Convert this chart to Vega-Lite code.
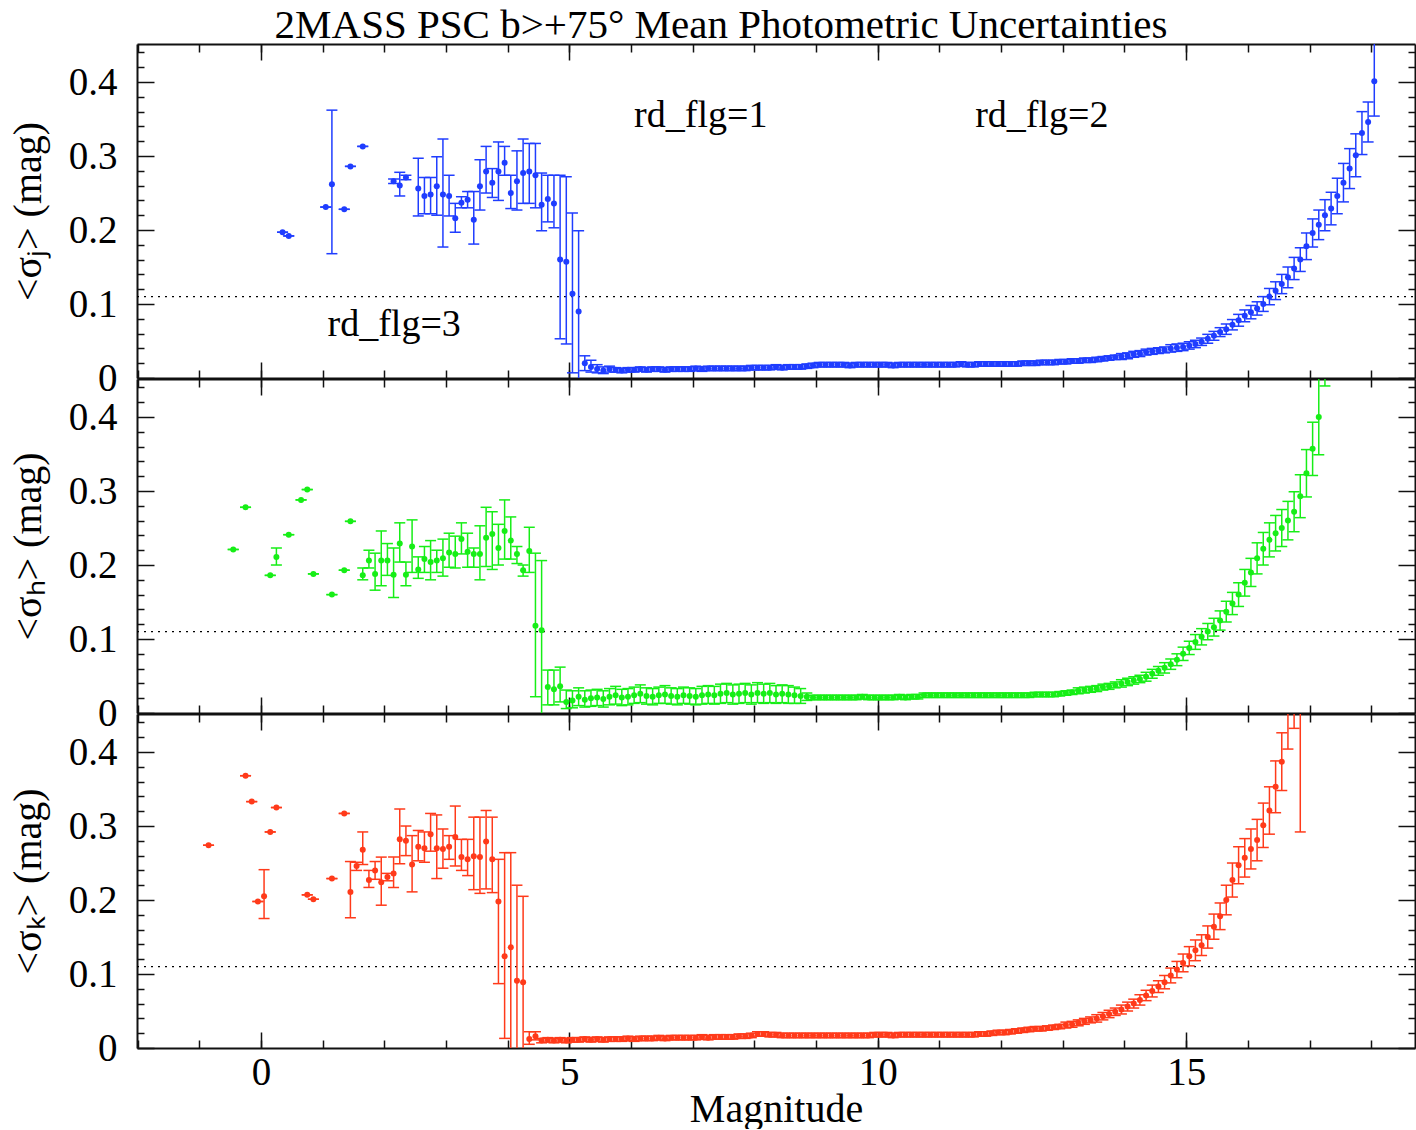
{
"$schema": "https://vega.github.io/schema/vega-lite/v6.json",
"padding": {"left": 8, "top": 5, "right": 0, "bottom": 0},
"background": "#ffffff",
"title": {"text": "2MASS PSC b>+75° Mean Photometric Uncertainties", "font": "Liberation Serif", "fontSize": 41, "fontWeight": "normal", "color": "#000", "offset": -4, "anchor": "middle", "dx": 9},
"config": {"view": {"stroke": null}, "axis": {"grid": false, "labelFont": "Liberation Serif", "labelFontSize": 39, "labelColor": "#000", "titleFont": "Liberation Serif", "titleFontSize": 40, "titleFontWeight": "normal", "titleColor": "#000", "domainColor": "#111", "domainWidth": 2, "tickColor": "#111", "tickWidth": 1.5}},
"datasets": {
"txt": [{"t": "rd_flg=1", "m": 7.13, "v": 0.354}, {"t": "rd_flg=2", "m": 12.66, "v": 0.354}, {"t": "rd_flg=3", "m": 2.16, "v": 0.072}],
"ref": [{"x1": -2.01, "x2": 18.71, "y": 0.11}],
"pts": [
{"b":"J","m":0.35,"v":0.197,"lo":0.197,"hi":0.197},
{"b":"J","m":0.45,"v":0.192,"lo":0.192,"hi":0.192},
{"b":"J","m":1.05,"v":0.231,"lo":0.231,"hi":0.231},
{"b":"J","m":1.15,"v":0.262,"lo":0.168,"hi":0.362},
{"b":"J","m":1.35,"v":0.228,"lo":0.228,"hi":0.228},
{"b":"J","m":1.45,"v":0.286,"lo":0.286,"hi":0.286},
{"b":"J","m":1.65,"v":0.313,"lo":0.313,"hi":0.313},
{"b":"J","m":2.15,"v":0.266,"lo":0.263,"hi":0.269},
{"b":"J","m":2.25,"v":0.260,"lo":0.246,"hi":0.278},
{"b":"J","m":2.35,"v":0.271,"lo":0.268,"hi":0.274},
{"b":"J","m":2.55,"v":0.256,"lo":0.219,"hi":0.297},
{"b":"J","m":2.65,"v":0.246,"lo":0.222,"hi":0.271},
{"b":"J","m":2.75,"v":0.248,"lo":0.222,"hi":0.271},
{"b":"J","m":2.85,"v":0.259,"lo":0.220,"hi":0.299},
{"b":"J","m":2.95,"v":0.248,"lo":0.177,"hi":0.323},
{"b":"J","m":3.05,"v":0.246,"lo":0.219,"hi":0.274},
{"b":"J","m":3.15,"v":0.216,"lo":0.197,"hi":0.236},
{"b":"J","m":3.25,"v":0.237,"lo":0.230,"hi":0.245},
{"b":"J","m":3.35,"v":0.241,"lo":0.230,"hi":0.252},
{"b":"J","m":3.45,"v":0.214,"lo":0.181,"hi":0.252},
{"b":"J","m":3.55,"v":0.259,"lo":0.227,"hi":0.295},
{"b":"J","m":3.65,"v":0.279,"lo":0.250,"hi":0.313},
{"b":"J","m":3.75,"v":0.264,"lo":0.244,"hi":0.283},
{"b":"J","m":3.85,"v":0.279,"lo":0.240,"hi":0.319},
{"b":"J","m":3.95,"v":0.291,"lo":0.274,"hi":0.313},
{"b":"J","m":4.05,"v":0.250,"lo":0.229,"hi":0.274},
{"b":"J","m":4.15,"v":0.266,"lo":0.227,"hi":0.307},
{"b":"J","m":4.25,"v":0.277,"lo":0.236,"hi":0.323},
{"b":"J","m":4.35,"v":0.279,"lo":0.236,"hi":0.317},
{"b":"J","m":4.45,"v":0.274,"lo":0.230,"hi":0.317},
{"b":"J","m":4.55,"v":0.234,"lo":0.199,"hi":0.277},
{"b":"J","m":4.65,"v":0.242,"lo":0.211,"hi":0.274},
{"b":"J","m":4.75,"v":0.236,"lo":0.203,"hi":0.274},
{"b":"J","m":4.85,"v":0.160,"lo":0.053,"hi":0.274},
{"b":"J","m":4.95,"v":0.157,"lo":0.046,"hi":0.272},
{"b":"J","m":5.05,"v":0.114,"lo":0.007,"hi":0.223},
{"b":"J","m":5.15,"v":0.090,"lo":-0.02,"hi":0.199},
{"b":"J","m":5.25,"v":0.020,"lo":0.010,"hi":0.030},
{"b":"J","m":5.35,"v":0.015,"lo":0.008,"hi":0.024},
{"b":"J","m":5.45,"v":0.012,"lo":0.007,"hi":0.018},
{"b":"J","m":5.55,"v":0.010,"lo":0.006,"hi":0.015},
{"b":"J","m":5.65,"v":0.012,"lo":0.008,"hi":0.016},
{"b":"J","m":5.75,"v":0.011,"lo":0.008,"hi":0.014},
{"b":"J","m":5.85,"v":0.010,"lo":0.007,"hi":0.013},
{"b":"J","m":5.95,"v":0.011,"lo":0.008,"hi":0.014},
{"b":"J","m":6.05,"v":0.011,"lo":0.008,"hi":0.014},
{"b":"J","m":6.15,"v":0.012,"lo":0.009,"hi":0.015},
{"b":"J","m":6.25,"v":0.011,"lo":0.008,"hi":0.014},
{"b":"J","m":6.35,"v":0.012,"lo":0.009,"hi":0.015},
{"b":"J","m":6.45,"v":0.012,"lo":0.009,"hi":0.015},
{"b":"J","m":6.55,"v":0.011,"lo":0.008,"hi":0.014},
{"b":"J","m":6.65,"v":0.012,"lo":0.009,"hi":0.015},
{"b":"J","m":6.75,"v":0.012,"lo":0.009,"hi":0.015},
{"b":"J","m":6.85,"v":0.012,"lo":0.009,"hi":0.015},
{"b":"J","m":6.95,"v":0.012,"lo":0.009,"hi":0.015},
{"b":"J","m":7.05,"v":0.013,"lo":0.010,"hi":0.016},
{"b":"J","m":7.15,"v":0.012,"lo":0.009,"hi":0.015},
{"b":"J","m":7.25,"v":0.013,"lo":0.010,"hi":0.016},
{"b":"J","m":7.35,"v":0.013,"lo":0.010,"hi":0.016},
{"b":"J","m":7.45,"v":0.013,"lo":0.010,"hi":0.016},
{"b":"J","m":7.55,"v":0.013,"lo":0.010,"hi":0.016},
{"b":"J","m":7.65,"v":0.013,"lo":0.010,"hi":0.016},
{"b":"J","m":7.75,"v":0.013,"lo":0.010,"hi":0.016},
{"b":"J","m":7.85,"v":0.013,"lo":0.010,"hi":0.016},
{"b":"J","m":7.95,"v":0.014,"lo":0.011,"hi":0.017},
{"b":"J","m":8.05,"v":0.014,"lo":0.011,"hi":0.017},
{"b":"J","m":8.15,"v":0.014,"lo":0.011,"hi":0.017},
{"b":"J","m":8.25,"v":0.014,"lo":0.011,"hi":0.017},
{"b":"J","m":8.35,"v":0.015,"lo":0.012,"hi":0.018},
{"b":"J","m":8.45,"v":0.014,"lo":0.011,"hi":0.017},
{"b":"J","m":8.55,"v":0.015,"lo":0.012,"hi":0.018},
{"b":"J","m":8.65,"v":0.015,"lo":0.012,"hi":0.018},
{"b":"J","m":8.75,"v":0.015,"lo":0.012,"hi":0.018},
{"b":"J","m":8.85,"v":0.016,"lo":0.013,"hi":0.019},
{"b":"J","m":8.95,"v":0.017,"lo":0.014,"hi":0.020},
{"b":"J","m":9.05,"v":0.018,"lo":0.015,"hi":0.021},
{"b":"J","m":9.15,"v":0.018,"lo":0.015,"hi":0.021},
{"b":"J","m":9.25,"v":0.018,"lo":0.015,"hi":0.021},
{"b":"J","m":9.35,"v":0.018,"lo":0.015,"hi":0.021},
{"b":"J","m":9.45,"v":0.018,"lo":0.015,"hi":0.021},
{"b":"J","m":9.55,"v":0.017,"lo":0.014,"hi":0.020},
{"b":"J","m":9.65,"v":0.018,"lo":0.015,"hi":0.021},
{"b":"J","m":9.75,"v":0.018,"lo":0.015,"hi":0.021},
{"b":"J","m":9.85,"v":0.018,"lo":0.015,"hi":0.021},
{"b":"J","m":9.95,"v":0.018,"lo":0.015,"hi":0.021},
{"b":"J","m":10.05,"v":0.018,"lo":0.015,"hi":0.021},
{"b":"J","m":10.15,"v":0.018,"lo":0.015,"hi":0.021},
{"b":"J","m":10.25,"v":0.017,"lo":0.014,"hi":0.020},
{"b":"J","m":10.35,"v":0.018,"lo":0.015,"hi":0.021},
{"b":"J","m":10.45,"v":0.018,"lo":0.015,"hi":0.021},
{"b":"J","m":10.55,"v":0.018,"lo":0.015,"hi":0.021},
{"b":"J","m":10.65,"v":0.018,"lo":0.015,"hi":0.021},
{"b":"J","m":10.75,"v":0.018,"lo":0.015,"hi":0.021},
{"b":"J","m":10.85,"v":0.018,"lo":0.015,"hi":0.021},
{"b":"J","m":10.95,"v":0.018,"lo":0.015,"hi":0.021},
{"b":"J","m":11.05,"v":0.018,"lo":0.015,"hi":0.021},
{"b":"J","m":11.15,"v":0.018,"lo":0.015,"hi":0.021},
{"b":"J","m":11.25,"v":0.018,"lo":0.015,"hi":0.021},
{"b":"J","m":11.35,"v":0.019,"lo":0.016,"hi":0.022},
{"b":"J","m":11.45,"v":0.018,"lo":0.015,"hi":0.021},
{"b":"J","m":11.55,"v":0.018,"lo":0.015,"hi":0.021},
{"b":"J","m":11.65,"v":0.019,"lo":0.016,"hi":0.022},
{"b":"J","m":11.75,"v":0.019,"lo":0.016,"hi":0.022},
{"b":"J","m":11.85,"v":0.019,"lo":0.016,"hi":0.022},
{"b":"J","m":11.95,"v":0.019,"lo":0.016,"hi":0.022},
{"b":"J","m":12.05,"v":0.019,"lo":0.016,"hi":0.022},
{"b":"J","m":12.15,"v":0.019,"lo":0.016,"hi":0.022},
{"b":"J","m":12.25,"v":0.019,"lo":0.016,"hi":0.022},
{"b":"J","m":12.35,"v":0.020,"lo":0.017,"hi":0.023},
{"b":"J","m":12.45,"v":0.020,"lo":0.017,"hi":0.023},
{"b":"J","m":12.55,"v":0.020,"lo":0.017,"hi":0.023},
{"b":"J","m":12.65,"v":0.021,"lo":0.018,"hi":0.024},
{"b":"J","m":12.75,"v":0.021,"lo":0.018,"hi":0.024},
{"b":"J","m":12.85,"v":0.021,"lo":0.018,"hi":0.024},
{"b":"J","m":12.95,"v":0.022,"lo":0.019,"hi":0.025},
{"b":"J","m":13.05,"v":0.022,"lo":0.019,"hi":0.025},
{"b":"J","m":13.15,"v":0.023,"lo":0.020,"hi":0.026},
{"b":"J","m":13.25,"v":0.023,"lo":0.020,"hi":0.026},
{"b":"J","m":13.35,"v":0.024,"lo":0.021,"hi":0.027},
{"b":"J","m":13.45,"v":0.024,"lo":0.021,"hi":0.027},
{"b":"J","m":13.55,"v":0.025,"lo":0.022,"hi":0.028},
{"b":"J","m":13.65,"v":0.026,"lo":0.023,"hi":0.029},
{"b":"J","m":13.75,"v":0.027,"lo":0.024,"hi":0.030},
{"b":"J","m":13.85,"v":0.028,"lo":0.025,"hi":0.031},
{"b":"J","m":13.95,"v":0.029,"lo":0.025,"hi":0.033},
{"b":"J","m":14.05,"v":0.030,"lo":0.026,"hi":0.034},
{"b":"J","m":14.15,"v":0.032,"lo":0.028,"hi":0.036},
{"b":"J","m":14.25,"v":0.033,"lo":0.029,"hi":0.037},
{"b":"J","m":14.35,"v":0.035,"lo":0.031,"hi":0.039},
{"b":"J","m":14.45,"v":0.036,"lo":0.032,"hi":0.040},
{"b":"J","m":14.55,"v":0.037,"lo":0.033,"hi":0.041},
{"b":"J","m":14.65,"v":0.038,"lo":0.034,"hi":0.042},
{"b":"J","m":14.75,"v":0.040,"lo":0.035,"hi":0.045},
{"b":"J","m":14.85,"v":0.041,"lo":0.036,"hi":0.046},
{"b":"J","m":14.95,"v":0.042,"lo":0.037,"hi":0.047},
{"b":"J","m":15.05,"v":0.044,"lo":0.039,"hi":0.049},
{"b":"J","m":15.15,"v":0.046,"lo":0.041,"hi":0.051},
{"b":"J","m":15.25,"v":0.049,"lo":0.044,"hi":0.054},
{"b":"J","m":15.35,"v":0.053,"lo":0.047,"hi":0.059},
{"b":"J","m":15.45,"v":0.057,"lo":0.051,"hi":0.063},
{"b":"J","m":15.55,"v":0.062,"lo":0.056,"hi":0.068},
{"b":"J","m":15.65,"v":0.066,"lo":0.059,"hi":0.073},
{"b":"J","m":15.75,"v":0.072,"lo":0.065,"hi":0.079},
{"b":"J","m":15.85,"v":0.078,"lo":0.070,"hi":0.086},
{"b":"J","m":15.95,"v":0.084,"lo":0.076,"hi":0.092},
{"b":"J","m":16.05,"v":0.089,"lo":0.080,"hi":0.098},
{"b":"J","m":16.15,"v":0.094,"lo":0.085,"hi":0.103},
{"b":"J","m":16.25,"v":0.100,"lo":0.090,"hi":0.110},
{"b":"J","m":16.35,"v":0.110,"lo":0.099,"hi":0.121},
{"b":"J","m":16.45,"v":0.118,"lo":0.106,"hi":0.130},
{"b":"J","m":16.55,"v":0.127,"lo":0.114,"hi":0.140},
{"b":"J","m":16.65,"v":0.136,"lo":0.122,"hi":0.150},
{"b":"J","m":16.75,"v":0.148,"lo":0.133,"hi":0.163},
{"b":"J","m":16.85,"v":0.160,"lo":0.144,"hi":0.176},
{"b":"J","m":16.95,"v":0.178,"lo":0.160,"hi":0.196},
{"b":"J","m":17.05,"v":0.196,"lo":0.177,"hi":0.215},
{"b":"J","m":17.15,"v":0.207,"lo":0.187,"hi":0.227},
{"b":"J","m":17.25,"v":0.220,"lo":0.199,"hi":0.241},
{"b":"J","m":17.35,"v":0.229,"lo":0.207,"hi":0.251},
{"b":"J","m":17.45,"v":0.246,"lo":0.222,"hi":0.270},
{"b":"J","m":17.55,"v":0.264,"lo":0.238,"hi":0.290},
{"b":"J","m":17.65,"v":0.283,"lo":0.256,"hi":0.310},
{"b":"J","m":17.75,"v":0.301,"lo":0.272,"hi":0.330},
{"b":"J","m":17.85,"v":0.331,"lo":0.302,"hi":0.360},
{"b":"J","m":17.95,"v":0.346,"lo":0.319,"hi":0.373},
{"b":"J","m":18.05,"v":0.401,"lo":0.354,"hi":0.520},
{"b":"H","m":-0.45,"v":0.221,"lo":0.221,"hi":0.221},
{"b":"H","m":-0.25,"v":0.278,"lo":0.278,"hi":0.278},
{"b":"H","m":0.15,"v":0.186,"lo":0.186,"hi":0.186},
{"b":"H","m":0.25,"v":0.211,"lo":0.200,"hi":0.223},
{"b":"H","m":0.45,"v":0.241,"lo":0.241,"hi":0.241},
{"b":"H","m":0.65,"v":0.288,"lo":0.288,"hi":0.288},
{"b":"H","m":0.75,"v":0.302,"lo":0.302,"hi":0.302},
{"b":"H","m":0.85,"v":0.188,"lo":0.188,"hi":0.188},
{"b":"H","m":1.15,"v":0.160,"lo":0.160,"hi":0.160},
{"b":"H","m":1.35,"v":0.193,"lo":0.193,"hi":0.193},
{"b":"H","m":1.45,"v":0.259,"lo":0.259,"hi":0.259},
{"b":"H","m":1.65,"v":0.186,"lo":0.180,"hi":0.196},
{"b":"H","m":1.75,"v":0.206,"lo":0.196,"hi":0.220},
{"b":"H","m":1.85,"v":0.188,"lo":0.166,"hi":0.216},
{"b":"H","m":1.95,"v":0.206,"lo":0.172,"hi":0.246},
{"b":"H","m":2.05,"v":0.206,"lo":0.186,"hi":0.229},
{"b":"H","m":2.15,"v":0.187,"lo":0.156,"hi":0.223},
{"b":"H","m":2.25,"v":0.229,"lo":0.204,"hi":0.257},
{"b":"H","m":2.35,"v":0.187,"lo":0.172,"hi":0.204},
{"b":"H","m":2.45,"v":0.225,"lo":0.190,"hi":0.261},
{"b":"H","m":2.55,"v":0.194,"lo":0.182,"hi":0.211},
{"b":"H","m":2.65,"v":0.208,"lo":0.190,"hi":0.225},
{"b":"H","m":2.75,"v":0.204,"lo":0.180,"hi":0.233},
{"b":"H","m":2.85,"v":0.206,"lo":0.190,"hi":0.220},
{"b":"H","m":2.95,"v":0.209,"lo":0.185,"hi":0.235},
{"b":"H","m":3.05,"v":0.217,"lo":0.197,"hi":0.243},
{"b":"H","m":3.15,"v":0.215,"lo":0.196,"hi":0.239},
{"b":"H","m":3.25,"v":0.235,"lo":0.215,"hi":0.257},
{"b":"H","m":3.35,"v":0.218,"lo":0.197,"hi":0.243},
{"b":"H","m":3.45,"v":0.215,"lo":0.197,"hi":0.223},
{"b":"H","m":3.55,"v":0.215,"lo":0.180,"hi":0.253},
{"b":"H","m":3.65,"v":0.237,"lo":0.198,"hi":0.278},
{"b":"H","m":3.75,"v":0.242,"lo":0.194,"hi":0.272},
{"b":"H","m":3.85,"v":0.223,"lo":0.200,"hi":0.255},
{"b":"H","m":3.95,"v":0.246,"lo":0.208,"hi":0.288},
{"b":"H","m":4.05,"v":0.233,"lo":0.208,"hi":0.265},
{"b":"H","m":4.15,"v":0.215,"lo":0.202,"hi":0.225},
{"b":"H","m":4.25,"v":0.193,"lo":0.185,"hi":0.200},
{"b":"H","m":4.35,"v":0.219,"lo":0.190,"hi":0.251},
{"b":"H","m":4.45,"v":0.118,"lo":0.022,"hi":0.216},
{"b":"H","m":4.55,"v":0.112,"lo":-0.02,"hi":0.206},
{"b":"H","m":4.65,"v":0.035,"lo":0.011,"hi":0.058},
{"b":"H","m":4.75,"v":0.032,"lo":0.011,"hi":0.058},
{"b":"H","m":4.85,"v":0.036,"lo":0.015,"hi":0.062},
{"b":"H","m":4.95,"v":0.015,"lo":0.006,"hi":0.031},
{"b":"H","m":5.05,"v":0.017,"lo":0.007,"hi":0.030},
{"b":"H","m":5.15,"v":0.022,"lo":0.010,"hi":0.034},
{"b":"H","m":5.25,"v":0.018,"lo":0.008,"hi":0.030},
{"b":"H","m":5.35,"v":0.020,"lo":0.009,"hi":0.031},
{"b":"H","m":5.45,"v":0.021,"lo":0.010,"hi":0.032},
{"b":"H","m":5.55,"v":0.019,"lo":0.008,"hi":0.030},
{"b":"H","m":5.65,"v":0.022,"lo":0.011,"hi":0.033},
{"b":"H","m":5.75,"v":0.024,"lo":0.012,"hi":0.036},
{"b":"H","m":5.85,"v":0.021,"lo":0.010,"hi":0.032},
{"b":"H","m":5.95,"v":0.022,"lo":0.011,"hi":0.033},
{"b":"H","m":6.05,"v":0.024,"lo":0.013,"hi":0.035},
{"b":"H","m":6.15,"v":0.026,"lo":0.014,"hi":0.038},
{"b":"H","m":6.25,"v":0.023,"lo":0.012,"hi":0.034},
{"b":"H","m":6.35,"v":0.022,"lo":0.011,"hi":0.033},
{"b":"H","m":6.45,"v":0.024,"lo":0.013,"hi":0.035},
{"b":"H","m":6.55,"v":0.025,"lo":0.013,"hi":0.037},
{"b":"H","m":6.65,"v":0.023,"lo":0.012,"hi":0.034},
{"b":"H","m":6.75,"v":0.022,"lo":0.011,"hi":0.033},
{"b":"H","m":6.85,"v":0.024,"lo":0.013,"hi":0.035},
{"b":"H","m":6.95,"v":0.023,"lo":0.012,"hi":0.034},
{"b":"H","m":7.05,"v":0.022,"lo":0.011,"hi":0.033},
{"b":"H","m":7.15,"v":0.024,"lo":0.012,"hi":0.036},
{"b":"H","m":7.25,"v":0.025,"lo":0.013,"hi":0.037},
{"b":"H","m":7.35,"v":0.024,"lo":0.012,"hi":0.036},
{"b":"H","m":7.45,"v":0.026,"lo":0.013,"hi":0.039},
{"b":"H","m":7.55,"v":0.027,"lo":0.014,"hi":0.040},
{"b":"H","m":7.65,"v":0.025,"lo":0.012,"hi":0.038},
{"b":"H","m":7.75,"v":0.026,"lo":0.013,"hi":0.039},
{"b":"H","m":7.85,"v":0.027,"lo":0.014,"hi":0.040},
{"b":"H","m":7.95,"v":0.025,"lo":0.012,"hi":0.038},
{"b":"H","m":8.05,"v":0.027,"lo":0.014,"hi":0.041},
{"b":"H","m":8.15,"v":0.026,"lo":0.013,"hi":0.039},
{"b":"H","m":8.25,"v":0.027,"lo":0.014,"hi":0.040},
{"b":"H","m":8.35,"v":0.025,"lo":0.013,"hi":0.037},
{"b":"H","m":8.45,"v":0.026,"lo":0.014,"hi":0.038},
{"b":"H","m":8.55,"v":0.025,"lo":0.013,"hi":0.037},
{"b":"H","m":8.65,"v":0.024,"lo":0.013,"hi":0.035},
{"b":"H","m":8.75,"v":0.023,"lo":0.013,"hi":0.033},
{"b":"H","m":8.85,"v":0.022,"lo":0.017,"hi":0.027},
{"b":"H","m":8.95,"v":0.021,"lo":0.018,"hi":0.024},
{"b":"H","m":9.05,"v":0.021,"lo":0.018,"hi":0.024},
{"b":"H","m":9.15,"v":0.021,"lo":0.018,"hi":0.024},
{"b":"H","m":9.25,"v":0.021,"lo":0.018,"hi":0.024},
{"b":"H","m":9.35,"v":0.021,"lo":0.018,"hi":0.024},
{"b":"H","m":9.45,"v":0.021,"lo":0.018,"hi":0.024},
{"b":"H","m":9.55,"v":0.021,"lo":0.018,"hi":0.024},
{"b":"H","m":9.65,"v":0.021,"lo":0.018,"hi":0.024},
{"b":"H","m":9.75,"v":0.022,"lo":0.019,"hi":0.025},
{"b":"H","m":9.85,"v":0.021,"lo":0.018,"hi":0.024},
{"b":"H","m":9.95,"v":0.021,"lo":0.018,"hi":0.024},
{"b":"H","m":10.05,"v":0.021,"lo":0.018,"hi":0.024},
{"b":"H","m":10.15,"v":0.021,"lo":0.018,"hi":0.024},
{"b":"H","m":10.25,"v":0.021,"lo":0.018,"hi":0.024},
{"b":"H","m":10.35,"v":0.022,"lo":0.019,"hi":0.025},
{"b":"H","m":10.45,"v":0.021,"lo":0.018,"hi":0.024},
{"b":"H","m":10.55,"v":0.022,"lo":0.019,"hi":0.025},
{"b":"H","m":10.65,"v":0.022,"lo":0.019,"hi":0.025},
{"b":"H","m":10.75,"v":0.024,"lo":0.021,"hi":0.027},
{"b":"H","m":10.85,"v":0.024,"lo":0.021,"hi":0.027},
{"b":"H","m":10.95,"v":0.024,"lo":0.021,"hi":0.027},
{"b":"H","m":11.05,"v":0.024,"lo":0.021,"hi":0.027},
{"b":"H","m":11.15,"v":0.024,"lo":0.021,"hi":0.027},
{"b":"H","m":11.25,"v":0.024,"lo":0.021,"hi":0.027},
{"b":"H","m":11.35,"v":0.024,"lo":0.021,"hi":0.027},
{"b":"H","m":11.45,"v":0.024,"lo":0.021,"hi":0.027},
{"b":"H","m":11.55,"v":0.024,"lo":0.021,"hi":0.027},
{"b":"H","m":11.65,"v":0.024,"lo":0.021,"hi":0.027},
{"b":"H","m":11.75,"v":0.024,"lo":0.021,"hi":0.027},
{"b":"H","m":11.85,"v":0.024,"lo":0.021,"hi":0.027},
{"b":"H","m":11.95,"v":0.024,"lo":0.021,"hi":0.027},
{"b":"H","m":12.05,"v":0.024,"lo":0.021,"hi":0.027},
{"b":"H","m":12.15,"v":0.024,"lo":0.021,"hi":0.027},
{"b":"H","m":12.25,"v":0.024,"lo":0.021,"hi":0.027},
{"b":"H","m":12.35,"v":0.024,"lo":0.021,"hi":0.027},
{"b":"H","m":12.45,"v":0.024,"lo":0.021,"hi":0.027},
{"b":"H","m":12.55,"v":0.025,"lo":0.022,"hi":0.028},
{"b":"H","m":12.65,"v":0.025,"lo":0.022,"hi":0.028},
{"b":"H","m":12.75,"v":0.025,"lo":0.022,"hi":0.028},
{"b":"H","m":12.85,"v":0.025,"lo":0.022,"hi":0.028},
{"b":"H","m":12.95,"v":0.026,"lo":0.023,"hi":0.029},
{"b":"H","m":13.05,"v":0.027,"lo":0.024,"hi":0.030},
{"b":"H","m":13.15,"v":0.028,"lo":0.025,"hi":0.031},
{"b":"H","m":13.25,"v":0.030,"lo":0.026,"hi":0.034},
{"b":"H","m":13.35,"v":0.031,"lo":0.027,"hi":0.035},
{"b":"H","m":13.45,"v":0.032,"lo":0.028,"hi":0.036},
{"b":"H","m":13.55,"v":0.033,"lo":0.029,"hi":0.037},
{"b":"H","m":13.65,"v":0.035,"lo":0.031,"hi":0.039},
{"b":"H","m":13.75,"v":0.036,"lo":0.032,"hi":0.040},
{"b":"H","m":13.85,"v":0.038,"lo":0.034,"hi":0.042},
{"b":"H","m":13.95,"v":0.040,"lo":0.035,"hi":0.045},
{"b":"H","m":14.05,"v":0.042,"lo":0.037,"hi":0.047},
{"b":"H","m":14.15,"v":0.044,"lo":0.039,"hi":0.049},
{"b":"H","m":14.25,"v":0.046,"lo":0.041,"hi":0.051},
{"b":"H","m":14.35,"v":0.049,"lo":0.043,"hi":0.055},
{"b":"H","m":14.45,"v":0.053,"lo":0.047,"hi":0.059},
{"b":"H","m":14.55,"v":0.057,"lo":0.051,"hi":0.063},
{"b":"H","m":14.65,"v":0.061,"lo":0.054,"hi":0.068},
{"b":"H","m":14.75,"v":0.066,"lo":0.059,"hi":0.073},
{"b":"H","m":14.85,"v":0.072,"lo":0.064,"hi":0.080},
{"b":"H","m":14.95,"v":0.080,"lo":0.071,"hi":0.089},
{"b":"H","m":15.05,"v":0.088,"lo":0.079,"hi":0.097},
{"b":"H","m":15.15,"v":0.096,"lo":0.086,"hi":0.106},
{"b":"H","m":15.25,"v":0.103,"lo":0.092,"hi":0.114},
{"b":"H","m":15.35,"v":0.110,"lo":0.099,"hi":0.121},
{"b":"H","m":15.45,"v":0.116,"lo":0.104,"hi":0.128},
{"b":"H","m":15.55,"v":0.125,"lo":0.112,"hi":0.138},
{"b":"H","m":15.65,"v":0.137,"lo":0.123,"hi":0.151},
{"b":"H","m":15.75,"v":0.148,"lo":0.133,"hi":0.163},
{"b":"H","m":15.85,"v":0.160,"lo":0.144,"hi":0.176},
{"b":"H","m":15.95,"v":0.176,"lo":0.158,"hi":0.194},
{"b":"H","m":16.05,"v":0.190,"lo":0.171,"hi":0.209},
{"b":"H","m":16.15,"v":0.209,"lo":0.188,"hi":0.230},
{"b":"H","m":16.25,"v":0.222,"lo":0.200,"hi":0.244},
{"b":"H","m":16.35,"v":0.234,"lo":0.211,"hi":0.257},
{"b":"H","m":16.45,"v":0.243,"lo":0.219,"hi":0.267},
{"b":"H","m":16.55,"v":0.250,"lo":0.225,"hi":0.275},
{"b":"H","m":16.65,"v":0.260,"lo":0.234,"hi":0.286},
{"b":"H","m":16.75,"v":0.272,"lo":0.245,"hi":0.299},
{"b":"H","m":16.85,"v":0.293,"lo":0.264,"hi":0.322},
{"b":"H","m":16.95,"v":0.324,"lo":0.292,"hi":0.356},
{"b":"H","m":17.05,"v":0.357,"lo":0.321,"hi":0.393},
{"b":"H","m":17.15,"v":0.400,"lo":0.349,"hi":0.460},
{"b":"H","m":17.25,"v":0.490,"lo":0.442,"hi":0.550},
{"b":"K","m":-0.85,"v":0.274,"lo":0.274,"hi":0.274},
{"b":"K","m":-0.25,"v":0.368,"lo":0.368,"hi":0.368},
{"b":"K","m":-0.15,"v":0.333,"lo":0.333,"hi":0.333},
{"b":"K","m":-0.05,"v":0.198,"lo":0.198,"hi":0.198},
{"b":"K","m":0.05,"v":0.205,"lo":0.175,"hi":0.241},
{"b":"K","m":0.15,"v":0.292,"lo":0.292,"hi":0.292},
{"b":"K","m":0.25,"v":0.325,"lo":0.325,"hi":0.325},
{"b":"K","m":0.75,"v":0.207,"lo":0.207,"hi":0.207},
{"b":"K","m":0.85,"v":0.201,"lo":0.201,"hi":0.201},
{"b":"K","m":1.15,"v":0.229,"lo":0.229,"hi":0.229},
{"b":"K","m":1.35,"v":0.317,"lo":0.317,"hi":0.317},
{"b":"K","m":1.45,"v":0.211,"lo":0.176,"hi":0.252},
{"b":"K","m":1.55,"v":0.246,"lo":0.240,"hi":0.251},
{"b":"K","m":1.65,"v":0.268,"lo":0.248,"hi":0.292},
{"b":"K","m":1.75,"v":0.227,"lo":0.217,"hi":0.240},
{"b":"K","m":1.85,"v":0.240,"lo":0.228,"hi":0.252},
{"b":"K","m":1.95,"v":0.224,"lo":0.193,"hi":0.258},
{"b":"K","m":2.05,"v":0.231,"lo":0.226,"hi":0.236},
{"b":"K","m":2.15,"v":0.236,"lo":0.217,"hi":0.258},
{"b":"K","m":2.25,"v":0.282,"lo":0.249,"hi":0.323},
{"b":"K","m":2.35,"v":0.280,"lo":0.260,"hi":0.300},
{"b":"K","m":2.45,"v":0.248,"lo":0.211,"hi":0.287},
{"b":"K","m":2.55,"v":0.272,"lo":0.253,"hi":0.294},
{"b":"K","m":2.65,"v":0.270,"lo":0.251,"hi":0.292},
{"b":"K","m":2.75,"v":0.289,"lo":0.266,"hi":0.317},
{"b":"K","m":2.85,"v":0.270,"lo":0.229,"hi":0.315},
{"b":"K","m":2.95,"v":0.269,"lo":0.243,"hi":0.296},
{"b":"K","m":3.05,"v":0.272,"lo":0.255,"hi":0.287},
{"b":"K","m":3.15,"v":0.285,"lo":0.246,"hi":0.327},
{"b":"K","m":3.25,"v":0.258,"lo":0.240,"hi":0.282},
{"b":"K","m":3.35,"v":0.255,"lo":0.233,"hi":0.282},
{"b":"K","m":3.45,"v":0.259,"lo":0.214,"hi":0.312},
{"b":"K","m":3.55,"v":0.258,"lo":0.209,"hi":0.312},
{"b":"K","m":3.65,"v":0.279,"lo":0.215,"hi":0.321},
{"b":"K","m":3.75,"v":0.255,"lo":0.210,"hi":0.312},
{"b":"K","m":3.85,"v":0.198,"lo":0.087,"hi":0.255},
{"b":"K","m":3.95,"v":0.124,"lo":0.013,"hi":0.264},
{"b":"K","m":4.05,"v":0.136,"lo":-0.02,"hi":0.264},
{"b":"K","m":4.15,"v":0.091,"lo":-0.02,"hi":0.220},
{"b":"K","m":4.25,"v":0.089,"lo":-0.02,"hi":0.205},
{"b":"K","m":4.35,"v":0.012,"lo":0.005,"hi":0.022},
{"b":"K","m":4.45,"v":0.016,"lo":0.011,"hi":0.022},
{"b":"K","m":4.55,"v":0.010,"lo":0.007,"hi":0.013},
{"b":"K","m":4.65,"v":0.011,"lo":0.008,"hi":0.014},
{"b":"K","m":4.75,"v":0.010,"lo":0.007,"hi":0.013},
{"b":"K","m":4.85,"v":0.011,"lo":0.008,"hi":0.014},
{"b":"K","m":4.95,"v":0.010,"lo":0.007,"hi":0.013},
{"b":"K","m":5.05,"v":0.011,"lo":0.008,"hi":0.014},
{"b":"K","m":5.15,"v":0.011,"lo":0.008,"hi":0.014},
{"b":"K","m":5.25,"v":0.012,"lo":0.009,"hi":0.015},
{"b":"K","m":5.35,"v":0.011,"lo":0.008,"hi":0.014},
{"b":"K","m":5.45,"v":0.012,"lo":0.009,"hi":0.015},
{"b":"K","m":5.55,"v":0.011,"lo":0.008,"hi":0.014},
{"b":"K","m":5.65,"v":0.012,"lo":0.009,"hi":0.015},
{"b":"K","m":5.75,"v":0.012,"lo":0.009,"hi":0.015},
{"b":"K","m":5.85,"v":0.012,"lo":0.009,"hi":0.015},
{"b":"K","m":5.95,"v":0.013,"lo":0.010,"hi":0.016},
{"b":"K","m":6.05,"v":0.012,"lo":0.009,"hi":0.015},
{"b":"K","m":6.15,"v":0.013,"lo":0.010,"hi":0.016},
{"b":"K","m":6.25,"v":0.013,"lo":0.010,"hi":0.016},
{"b":"K","m":6.35,"v":0.013,"lo":0.010,"hi":0.016},
{"b":"K","m":6.45,"v":0.014,"lo":0.011,"hi":0.017},
{"b":"K","m":6.55,"v":0.013,"lo":0.010,"hi":0.016},
{"b":"K","m":6.65,"v":0.014,"lo":0.011,"hi":0.017},
{"b":"K","m":6.75,"v":0.014,"lo":0.011,"hi":0.017},
{"b":"K","m":6.85,"v":0.014,"lo":0.011,"hi":0.017},
{"b":"K","m":6.95,"v":0.014,"lo":0.011,"hi":0.017},
{"b":"K","m":7.05,"v":0.014,"lo":0.011,"hi":0.017},
{"b":"K","m":7.15,"v":0.015,"lo":0.012,"hi":0.018},
{"b":"K","m":7.25,"v":0.014,"lo":0.011,"hi":0.017},
{"b":"K","m":7.35,"v":0.015,"lo":0.012,"hi":0.018},
{"b":"K","m":7.45,"v":0.015,"lo":0.012,"hi":0.018},
{"b":"K","m":7.55,"v":0.015,"lo":0.012,"hi":0.018},
{"b":"K","m":7.65,"v":0.015,"lo":0.012,"hi":0.018},
{"b":"K","m":7.75,"v":0.016,"lo":0.013,"hi":0.019},
{"b":"K","m":7.85,"v":0.016,"lo":0.013,"hi":0.019},
{"b":"K","m":7.95,"v":0.017,"lo":0.014,"hi":0.020},
{"b":"K","m":8.05,"v":0.019,"lo":0.016,"hi":0.022},
{"b":"K","m":8.15,"v":0.019,"lo":0.016,"hi":0.022},
{"b":"K","m":8.25,"v":0.018,"lo":0.015,"hi":0.021},
{"b":"K","m":8.35,"v":0.018,"lo":0.015,"hi":0.021},
{"b":"K","m":8.45,"v":0.017,"lo":0.014,"hi":0.020},
{"b":"K","m":8.55,"v":0.017,"lo":0.014,"hi":0.020},
{"b":"K","m":8.65,"v":0.017,"lo":0.014,"hi":0.020},
{"b":"K","m":8.75,"v":0.017,"lo":0.014,"hi":0.020},
{"b":"K","m":8.85,"v":0.017,"lo":0.014,"hi":0.020},
{"b":"K","m":8.95,"v":0.017,"lo":0.014,"hi":0.020},
{"b":"K","m":9.05,"v":0.017,"lo":0.014,"hi":0.020},
{"b":"K","m":9.15,"v":0.017,"lo":0.014,"hi":0.020},
{"b":"K","m":9.25,"v":0.017,"lo":0.014,"hi":0.020},
{"b":"K","m":9.35,"v":0.017,"lo":0.014,"hi":0.020},
{"b":"K","m":9.45,"v":0.017,"lo":0.014,"hi":0.020},
{"b":"K","m":9.55,"v":0.017,"lo":0.014,"hi":0.020},
{"b":"K","m":9.65,"v":0.017,"lo":0.014,"hi":0.020},
{"b":"K","m":9.75,"v":0.017,"lo":0.014,"hi":0.020},
{"b":"K","m":9.85,"v":0.017,"lo":0.014,"hi":0.020},
{"b":"K","m":9.95,"v":0.018,"lo":0.015,"hi":0.021},
{"b":"K","m":10.05,"v":0.018,"lo":0.015,"hi":0.021},
{"b":"K","m":10.15,"v":0.018,"lo":0.015,"hi":0.021},
{"b":"K","m":10.25,"v":0.017,"lo":0.014,"hi":0.020},
{"b":"K","m":10.35,"v":0.018,"lo":0.015,"hi":0.021},
{"b":"K","m":10.45,"v":0.018,"lo":0.015,"hi":0.021},
{"b":"K","m":10.55,"v":0.018,"lo":0.015,"hi":0.021},
{"b":"K","m":10.65,"v":0.018,"lo":0.015,"hi":0.021},
{"b":"K","m":10.75,"v":0.018,"lo":0.015,"hi":0.021},
{"b":"K","m":10.85,"v":0.018,"lo":0.015,"hi":0.021},
{"b":"K","m":10.95,"v":0.018,"lo":0.015,"hi":0.021},
{"b":"K","m":11.05,"v":0.018,"lo":0.015,"hi":0.021},
{"b":"K","m":11.15,"v":0.018,"lo":0.015,"hi":0.021},
{"b":"K","m":11.25,"v":0.018,"lo":0.015,"hi":0.021},
{"b":"K","m":11.35,"v":0.018,"lo":0.015,"hi":0.021},
{"b":"K","m":11.45,"v":0.018,"lo":0.015,"hi":0.021},
{"b":"K","m":11.55,"v":0.018,"lo":0.015,"hi":0.021},
{"b":"K","m":11.65,"v":0.019,"lo":0.016,"hi":0.022},
{"b":"K","m":11.75,"v":0.019,"lo":0.016,"hi":0.022},
{"b":"K","m":11.85,"v":0.020,"lo":0.017,"hi":0.023},
{"b":"K","m":11.95,"v":0.021,"lo":0.018,"hi":0.024},
{"b":"K","m":12.05,"v":0.021,"lo":0.018,"hi":0.024},
{"b":"K","m":12.15,"v":0.022,"lo":0.019,"hi":0.025},
{"b":"K","m":12.25,"v":0.023,"lo":0.020,"hi":0.026},
{"b":"K","m":12.35,"v":0.024,"lo":0.021,"hi":0.027},
{"b":"K","m":12.45,"v":0.025,"lo":0.022,"hi":0.028},
{"b":"K","m":12.55,"v":0.026,"lo":0.023,"hi":0.029},
{"b":"K","m":12.65,"v":0.026,"lo":0.023,"hi":0.029},
{"b":"K","m":12.75,"v":0.027,"lo":0.024,"hi":0.030},
{"b":"K","m":12.85,"v":0.028,"lo":0.025,"hi":0.031},
{"b":"K","m":12.95,"v":0.029,"lo":0.026,"hi":0.032},
{"b":"K","m":13.05,"v":0.031,"lo":0.027,"hi":0.035},
{"b":"K","m":13.15,"v":0.032,"lo":0.028,"hi":0.036},
{"b":"K","m":13.25,"v":0.034,"lo":0.030,"hi":0.038},
{"b":"K","m":13.35,"v":0.036,"lo":0.032,"hi":0.040},
{"b":"K","m":13.45,"v":0.038,"lo":0.034,"hi":0.042},
{"b":"K","m":13.55,"v":0.040,"lo":0.035,"hi":0.045},
{"b":"K","m":13.65,"v":0.043,"lo":0.038,"hi":0.048},
{"b":"K","m":13.75,"v":0.046,"lo":0.041,"hi":0.051},
{"b":"K","m":13.85,"v":0.049,"lo":0.044,"hi":0.054},
{"b":"K","m":13.95,"v":0.052,"lo":0.046,"hi":0.058},
{"b":"K","m":14.05,"v":0.056,"lo":0.050,"hi":0.062},
{"b":"K","m":14.15,"v":0.060,"lo":0.054,"hi":0.066},
{"b":"K","m":14.25,"v":0.065,"lo":0.058,"hi":0.072},
{"b":"K","m":14.35,"v":0.071,"lo":0.064,"hi":0.078},
{"b":"K","m":14.45,"v":0.077,"lo":0.069,"hi":0.085},
{"b":"K","m":14.55,"v":0.083,"lo":0.075,"hi":0.091},
{"b":"K","m":14.65,"v":0.089,"lo":0.080,"hi":0.098},
{"b":"K","m":14.75,"v":0.098,"lo":0.088,"hi":0.108},
{"b":"K","m":14.85,"v":0.106,"lo":0.095,"hi":0.117},
{"b":"K","m":14.95,"v":0.115,"lo":0.103,"hi":0.127},
{"b":"K","m":15.05,"v":0.124,"lo":0.111,"hi":0.137},
{"b":"K","m":15.15,"v":0.132,"lo":0.118,"hi":0.146},
{"b":"K","m":15.25,"v":0.139,"lo":0.125,"hi":0.153},
{"b":"K","m":15.35,"v":0.150,"lo":0.135,"hi":0.165},
{"b":"K","m":15.45,"v":0.164,"lo":0.147,"hi":0.181},
{"b":"K","m":15.55,"v":0.178,"lo":0.160,"hi":0.196},
{"b":"K","m":15.65,"v":0.200,"lo":0.180,"hi":0.220},
{"b":"K","m":15.75,"v":0.227,"lo":0.204,"hi":0.250},
{"b":"K","m":15.85,"v":0.247,"lo":0.222,"hi":0.272},
{"b":"K","m":15.95,"v":0.257,"lo":0.231,"hi":0.283},
{"b":"K","m":16.05,"v":0.269,"lo":0.242,"hi":0.296},
{"b":"K","m":16.15,"v":0.281,"lo":0.253,"hi":0.309},
{"b":"K","m":16.25,"v":0.301,"lo":0.271,"hi":0.331},
{"b":"K","m":16.35,"v":0.321,"lo":0.289,"hi":0.353},
{"b":"K","m":16.45,"v":0.353,"lo":0.318,"hi":0.388},
{"b":"K","m":16.55,"v":0.387,"lo":0.348,"hi":0.426},
{"b":"K","m":16.65,"v":0.470,"lo":0.404,"hi":0.550},
{"b":"K","m":16.75,"v":0.500,"lo":0.432,"hi":0.600},
{"b":"K","m":16.85,"v":0.550,"lo":0.292,"hi":0.800}
]},
"vconcat": [
{
"width": 1278, "height": 334,
"layer": [
{"data": {"name": "ref"}, "mark": {"type": "rule", "color": "#000", "strokeWidth": 1.3, "strokeDash": [2, 5]},
 "encoding": {"x": {"field": "x1", "type": "quantitative", "scale": {"domain": [-2.01, 18.71], "nice": false, "zero": false}, "axis": {"orient": "bottom", "ticks": false, "labels": false, "title": null, "domain": true}},
  "x2": {"field": "x2"},
  "y": {"field": "y", "type": "quantitative", "scale": {"domain": [0, 0.4514], "nice": false, "zero": false}, "axis": {"orient": "left", "values": [0, 0.1, 0.2, 0.3, 0.4], "format": "~g", "ticks": false, "labelPadding": 20, "title": "<σⱼ> (mag)", "titlePadding": 20, "domain": true}}}},
{"data": {"name": "pts"}, "transform": [{"filter": "datum.b == 'J'"}], "mark": {"type": "rule", "color": "#1f3dff", "strokeWidth": 1.5, "clip": true},
 "encoding": {"x": {"field": "m", "type": "quantitative", "scale": {"domain": [-2.01, 18.71], "nice": false, "zero": false}, "axis": {"orient": "bottom", "values": [0, 5, 10, 15], "tickSize": -16, "labels": false, "title": null, "domain": false}},
  "y": {"field": "lo", "type": "quantitative", "scale": {"domain": [0, 0.4514], "nice": false, "zero": false}, "axis": {"orient": "left", "values": [0, 0.1, 0.2, 0.3, 0.4], "tickSize": -17, "labels": false, "title": null, "domain": false}},
  "y2": {"field": "hi"}}},
{"data": {"name": "pts"}, "transform": [{"filter": "datum.b == 'J'"}], "mark": {"type": "tick", "orient": "horizontal", "size": 11, "thickness": 1.5, "color": "#1f3dff", "opacity": 1, "clip": true},
 "encoding": {"x": {"field": "m", "type": "quantitative", "scale": {"domain": [-2.01, 18.71], "nice": false, "zero": false}, "axis": {"orient": "bottom", "values": [-2,-1,0,1,2,3,4,5,6,7,8,9,10,11,12,13,14,15,16,17,18], "tickSize": -8, "labels": false, "title": null, "domain": false}},
  "y": {"field": "hi", "type": "quantitative", "scale": {"domain": [0, 0.4514], "nice": false, "zero": false}, "axis": {"orient": "left", "values": [0.02,0.04,0.06,0.08,0.12,0.14,0.16,0.18,0.22,0.24,0.26,0.28,0.32,0.34,0.36,0.38,0.42,0.44], "tickSize": -7, "labels": false, "title": null, "domain": false}}}},
{"data": {"name": "pts"}, "transform": [{"filter": "datum.b == 'J'"}], "mark": {"type": "tick", "orient": "horizontal", "size": 11, "thickness": 1.5, "color": "#1f3dff", "opacity": 1, "clip": true},
 "encoding": {"x": {"field": "m", "type": "quantitative", "scale": {"domain": [-2.01, 18.71], "nice": false, "zero": false}, "axis": {"orient": "top", "values": [0, 5, 10, 15], "tickSize": -16, "labels": false, "title": null, "domain": true}},
  "y": {"field": "lo", "type": "quantitative", "scale": {"domain": [0, 0.4514], "nice": false, "zero": false}, "axis": {"orient": "right", "values": [0, 0.1, 0.2, 0.3, 0.4], "tickSize": -17, "labels": false, "title": null, "domain": true}}}},
{"data": {"name": "pts"}, "transform": [{"filter": "datum.b == 'J'"}], "mark": {"type": "circle", "size": 36, "opacity": 1, "color": "#1f3dff", "clip": true},
 "encoding": {"x": {"field": "m", "type": "quantitative", "scale": {"domain": [-2.01, 18.71], "nice": false, "zero": false}, "axis": {"orient": "top", "values": [-2,-1,0,1,2,3,4,5,6,7,8,9,10,11,12,13,14,15,16,17,18], "tickSize": -8, "labels": false, "title": null, "domain": false}},
  "y": {"field": "v", "type": "quantitative", "scale": {"domain": [0, 0.4514], "nice": false, "zero": false}, "axis": {"orient": "right", "values": [0.02,0.04,0.06,0.08,0.12,0.14,0.16,0.18,0.22,0.24,0.26,0.28,0.32,0.34,0.36,0.38,0.42,0.44], "tickSize": -7, "labels": false, "title": null, "domain": false}}}},
{"data": {"name": "txt"}, "mark": {"type": "text", "font": "Liberation Serif", "fontSize": 38, "color": "#000", "align": "center", "baseline": "middle"},
 "encoding": {"x": {"field": "m", "type": "quantitative", "scale": {"domain": [-2.01, 18.71], "nice": false, "zero": false}, "axis": null},
  "y": {"field": "v", "type": "quantitative", "scale": {"domain": [0, 0.4514], "nice": false, "zero": false}, "axis": null},
  "text": {"field": "t"}}}
],
"resolve": {"axis": {"x": "independent", "y": "independent"}}
},
{
"width": 1278, "height": 334,
"layer": [
{"data": {"name": "ref"}, "mark": {"type": "rule", "color": "#000", "strokeWidth": 1.3, "strokeDash": [2, 5]},
 "encoding": {"x": {"field": "x1", "type": "quantitative", "scale": {"domain": [-2.01, 18.71], "nice": false, "zero": false}, "axis": {"orient": "bottom", "ticks": false, "labels": false, "title": null, "domain": true}},
  "x2": {"field": "x2"},
  "y": {"field": "y", "type": "quantitative", "scale": {"domain": [0, 0.4514], "nice": false, "zero": false}, "axis": {"orient": "left", "values": [0, 0.1, 0.2, 0.3, 0.4], "format": "~g", "ticks": false, "labelPadding": 20, "title": "<σₕ> (mag)", "titlePadding": 20, "domain": true}}}},
{"data": {"name": "pts"}, "transform": [{"filter": "datum.b == 'H'"}], "mark": {"type": "rule", "color": "#16ee16", "strokeWidth": 1.5, "clip": true},
 "encoding": {"x": {"field": "m", "type": "quantitative", "scale": {"domain": [-2.01, 18.71], "nice": false, "zero": false}, "axis": {"orient": "bottom", "values": [0, 5, 10, 15], "tickSize": -16, "labels": false, "title": null, "domain": false}},
  "y": {"field": "lo", "type": "quantitative", "scale": {"domain": [0, 0.4514], "nice": false, "zero": false}, "axis": {"orient": "left", "values": [0, 0.1, 0.2, 0.3, 0.4], "tickSize": -17, "labels": false, "title": null, "domain": false}},
  "y2": {"field": "hi"}}},
{"data": {"name": "pts"}, "transform": [{"filter": "datum.b == 'H'"}], "mark": {"type": "tick", "orient": "horizontal", "size": 11, "thickness": 1.5, "color": "#16ee16", "opacity": 1, "clip": true},
 "encoding": {"x": {"field": "m", "type": "quantitative", "scale": {"domain": [-2.01, 18.71], "nice": false, "zero": false}, "axis": {"orient": "bottom", "values": [-2,-1,0,1,2,3,4,5,6,7,8,9,10,11,12,13,14,15,16,17,18], "tickSize": -8, "labels": false, "title": null, "domain": false}},
  "y": {"field": "hi", "type": "quantitative", "scale": {"domain": [0, 0.4514], "nice": false, "zero": false}, "axis": {"orient": "left", "values": [0.02,0.04,0.06,0.08,0.12,0.14,0.16,0.18,0.22,0.24,0.26,0.28,0.32,0.34,0.36,0.38,0.42,0.44], "tickSize": -7, "labels": false, "title": null, "domain": false}}}},
{"data": {"name": "pts"}, "transform": [{"filter": "datum.b == 'H'"}], "mark": {"type": "tick", "orient": "horizontal", "size": 11, "thickness": 1.5, "color": "#16ee16", "opacity": 1, "clip": true},
 "encoding": {"x": {"field": "m", "type": "quantitative", "scale": {"domain": [-2.01, 18.71], "nice": false, "zero": false}, "axis": {"orient": "top", "values": [0, 5, 10, 15], "tickSize": -16, "labels": false, "title": null, "domain": true}},
  "y": {"field": "lo", "type": "quantitative", "scale": {"domain": [0, 0.4514], "nice": false, "zero": false}, "axis": {"orient": "right", "values": [0, 0.1, 0.2, 0.3, 0.4], "tickSize": -17, "labels": false, "title": null, "domain": true}}}},
{"data": {"name": "pts"}, "transform": [{"filter": "datum.b == 'H'"}], "mark": {"type": "circle", "size": 36, "opacity": 1, "color": "#16ee16", "clip": true},
 "encoding": {"x": {"field": "m", "type": "quantitative", "scale": {"domain": [-2.01, 18.71], "nice": false, "zero": false}, "axis": {"orient": "top", "values": [-2,-1,0,1,2,3,4,5,6,7,8,9,10,11,12,13,14,15,16,17,18], "tickSize": -8, "labels": false, "title": null, "domain": false}},
  "y": {"field": "v", "type": "quantitative", "scale": {"domain": [0, 0.4514], "nice": false, "zero": false}, "axis": {"orient": "right", "values": [0.02,0.04,0.06,0.08,0.12,0.14,0.16,0.18,0.22,0.24,0.26,0.28,0.32,0.34,0.36,0.38,0.42,0.44], "tickSize": -7, "labels": false, "title": null, "domain": false}}}}
],
"resolve": {"axis": {"x": "independent", "y": "independent"}}
},
{
"width": 1278, "height": 334,
"layer": [
{"data": {"name": "ref"}, "mark": {"type": "rule", "color": "#000", "strokeWidth": 1.3, "strokeDash": [2, 5]},
 "encoding": {"x": {"field": "x1", "type": "quantitative", "scale": {"domain": [-2.01, 18.71], "nice": false, "zero": false}, "axis": {"orient": "bottom", "values": [0, 5, 10, 15], "ticks": false, "labels": true, "labelPadding": 5, "title": "Magnitude", "titlePadding": -3, "domain": true}},
  "x2": {"field": "x2"},
  "y": {"field": "y", "type": "quantitative", "scale": {"domain": [0, 0.4514], "nice": false, "zero": false}, "axis": {"orient": "left", "values": [0, 0.1, 0.2, 0.3, 0.4], "format": "~g", "ticks": false, "labelPadding": 20, "title": "<σₖ> (mag)", "titlePadding": 20, "domain": true}}}},
{"data": {"name": "pts"}, "transform": [{"filter": "datum.b == 'K'"}], "mark": {"type": "rule", "color": "#ff3a1a", "strokeWidth": 1.5, "clip": true},
 "encoding": {"x": {"field": "m", "type": "quantitative", "scale": {"domain": [-2.01, 18.71], "nice": false, "zero": false}, "axis": {"orient": "bottom", "values": [0, 5, 10, 15], "tickSize": -16, "labels": false, "title": null, "domain": false}},
  "y": {"field": "lo", "type": "quantitative", "scale": {"domain": [0, 0.4514], "nice": false, "zero": false}, "axis": {"orient": "left", "values": [0, 0.1, 0.2, 0.3, 0.4], "tickSize": -17, "labels": false, "title": null, "domain": false}},
  "y2": {"field": "hi"}}},
{"data": {"name": "pts"}, "transform": [{"filter": "datum.b == 'K'"}], "mark": {"type": "tick", "orient": "horizontal", "size": 11, "thickness": 1.5, "color": "#ff3a1a", "opacity": 1, "clip": true},
 "encoding": {"x": {"field": "m", "type": "quantitative", "scale": {"domain": [-2.01, 18.71], "nice": false, "zero": false}, "axis": {"orient": "bottom", "values": [-2,-1,0,1,2,3,4,5,6,7,8,9,10,11,12,13,14,15,16,17,18], "tickSize": -8, "labels": false, "title": null, "domain": false}},
  "y": {"field": "hi", "type": "quantitative", "scale": {"domain": [0, 0.4514], "nice": false, "zero": false}, "axis": {"orient": "left", "values": [0.02,0.04,0.06,0.08,0.12,0.14,0.16,0.18,0.22,0.24,0.26,0.28,0.32,0.34,0.36,0.38,0.42,0.44], "tickSize": -7, "labels": false, "title": null, "domain": false}}}},
{"data": {"name": "pts"}, "transform": [{"filter": "datum.b == 'K'"}], "mark": {"type": "tick", "orient": "horizontal", "size": 11, "thickness": 1.5, "color": "#ff3a1a", "opacity": 1, "clip": true},
 "encoding": {"x": {"field": "m", "type": "quantitative", "scale": {"domain": [-2.01, 18.71], "nice": false, "zero": false}, "axis": {"orient": "top", "values": [0, 5, 10, 15], "tickSize": -16, "labels": false, "title": null, "domain": true}},
  "y": {"field": "lo", "type": "quantitative", "scale": {"domain": [0, 0.4514], "nice": false, "zero": false}, "axis": {"orient": "right", "values": [0, 0.1, 0.2, 0.3, 0.4], "tickSize": -17, "labels": false, "title": null, "domain": true}}}},
{"data": {"name": "pts"}, "transform": [{"filter": "datum.b == 'K'"}], "mark": {"type": "circle", "size": 36, "opacity": 1, "color": "#ff3a1a", "clip": true},
 "encoding": {"x": {"field": "m", "type": "quantitative", "scale": {"domain": [-2.01, 18.71], "nice": false, "zero": false}, "axis": {"orient": "top", "values": [-2,-1,0,1,2,3,4,5,6,7,8,9,10,11,12,13,14,15,16,17,18], "tickSize": -8, "labels": false, "title": null, "domain": false}},
  "y": {"field": "v", "type": "quantitative", "scale": {"domain": [0, 0.4514], "nice": false, "zero": false}, "axis": {"orient": "right", "values": [0.02,0.04,0.06,0.08,0.12,0.14,0.16,0.18,0.22,0.24,0.26,0.28,0.32,0.34,0.36,0.38,0.42,0.44], "tickSize": -7, "labels": false, "title": null, "domain": false}}}}
],
"resolve": {"axis": {"x": "independent", "y": "independent"}}
}
],
"spacing": 1,
"bounds": "flush"
}
